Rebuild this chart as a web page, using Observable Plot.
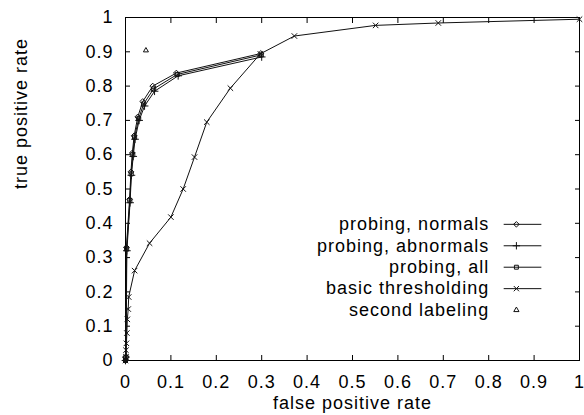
<!DOCTYPE html>
<html><head><meta charset="utf-8">
<script src="https://cdn.jsdelivr.net/npm/d3@7"></script>
<script src="https://cdn.jsdelivr.net/npm/@observablehq/plot@0.6"></script>
<style>body{margin:0;background:#fff} svg{overflow:visible}</style>
</head><body><div id="chart"></div>
<script>
const xTicks = [0,0.1,0.2,0.3,0.4,0.5,0.6,0.7,0.8,0.9,1];
const yTicks = [0,0.1,0.2,0.3,0.4,0.5,0.6,0.7,0.8,0.9,1];
const tickLabels = ["0","0.1","0.2","0.3","0.4","0.5","0.6","0.7","0.8","0.9","1"];

const normalsX = [0, 0.001, 0.002, 0.009, 0.012, 0.015, 0.019, 0.027, 0.038, 0.060, 0.112, 0.298];
const normalsY = [0, 0.010, 0.330, 0.470, 0.550, 0.605, 0.655, 0.710, 0.755, 0.800, 0.838, 0.895];
const abnormalsX = [0, 0.001, 0.003, 0.010, 0.013, 0.017, 0.021, 0.030, 0.042, 0.064, 0.116, 0.300];
const abnormalsY = [0, 0.010, 0.320, 0.460, 0.540, 0.595, 0.645, 0.700, 0.742, 0.785, 0.830, 0.885];
const allX = [0, 0.001, 0.0025, 0.0095, 0.0125, 0.016, 0.020, 0.029, 0.040, 0.062, 0.114, 0.299];
const allY = [0, 0.010, 0.325, 0.466, 0.544, 0.600, 0.651, 0.705, 0.748, 0.792, 0.834, 0.891];
const basicX = [0, 0.001, 0.001, 0.002, 0.003, 0.004, 0.006, 0.007, 0.020, 0.053, 0.100, 0.127, 0.152, 0.179, 0.231, 0.297, 0.372, 0.551, 0.689, 1.0];
const basicY = [0, 0.010, 0.030, 0.050, 0.080, 0.120, 0.150, 0.185, 0.262, 0.342, 0.418, 0.500, 0.593, 0.695, 0.794, 0.894, 0.946, 0.977, 0.984, 0.995];
const secondX = [0.045];
const secondY = [0.904];

const legendLabels = ["probing, normals", "probing, abnormals", "probing, all", "basic thresholding", "second labeling"];
const legendSymbols = ["diamond2", "plus", "square2", "times", "triangle2"];
const legendHasLine = [true, true, true, true, false];

const toRows = (xs, ys) => xs.map((x, i) => ({x, y: ys[i]}));
const series = [
  {rows: toRows(normalsX, normalsY), symbol: "diamond2"},
  {rows: toRows(abnormalsX, abnormalsY), symbol: "plus"},
  {rows: toRows(allX, allY), symbol: "square2"},
  {rows: toRows(basicX, basicY), symbol: "times"}
];

// legend layout (in data units of the frame)
const legRows = legendLabels.map((label, i) => ({
  label, symbol: legendSymbols[i], line: legendHasLine[i],
  y: 0.397 - 0.0625 * i, xt: 0.801, x1: 0.833, x2: 0.916, xm: 0.861
}));

const fontStyle = {fontFamily: "'Liberation Sans', Arial, sans-serif", fontSize: "18px", letterSpacing: "1px"};
const fmt = d => tickLabels[xTicks.findIndex(t => Math.abs(t - d) < 1e-9)];

const marks = [
  Plot.axisX({anchor: "bottom", ticks: xTicks, tickSize: -5, tickPadding: 20, tickFormat: fmt, label: null, fontSize: 18}),
  Plot.axisX({anchor: "top", ticks: xTicks, tickSize: -5, tickFormat: () => "", label: null}),
  Plot.axisY({anchor: "left", ticks: yTicks, tickSize: -5, tickPadding: 17, tickFormat: fmt, label: null, fontSize: 18}),
  Plot.axisY({anchor: "right", ticks: yTicks, tickSize: -5, tickFormat: () => "", label: null}),
  Plot.frame({stroke: "black", strokeWidth: 1}),
];
for (const s of series) {
  marks.push(Plot.line(s.rows, {x: "x", y: "y", stroke: "#111", strokeWidth: 1}));
  marks.push(Plot.dot(s.rows, {x: "x", y: "y", symbol: () => s.symbol, r: 2.6, stroke: "#111", strokeWidth: 1}));
}
marks.push(Plot.dot(toRows(secondX, secondY), {x: "x", y: "y", symbol: () => "triangle2", r: 2.4, stroke: "#111", strokeWidth: 1}));
// legend
marks.push(Plot.text(legRows, {x: "xt", y: "y", text: "label", textAnchor: "end", fontSize: 18, letterSpacing: "1.5px", fill: "black"}));
marks.push(Plot.link(legRows.filter(d => d.line), {x1: "x1", x2: "x2", y1: "y", y2: "y", stroke: "#111", strokeWidth: 1}));
marks.push(Plot.dot(legRows, {x: "xm", y: "y", symbol: "symbol", r: 2.5, stroke: "#111", strokeWidth: 1}));
// axis titles
marks.push(Plot.text(["true positive rate"], {frameAnchor: "left", dx: -104, rotate: -90, fontSize: 18, letterSpacing: "1.3px", fill: "black"}));
marks.push(Plot.text(["false positive rate"], {frameAnchor: "bottom", dy: 48, lineAnchor: "bottom", fontSize: 18, letterSpacing: "1.3px", fill: "black"}));

const chart = Plot.plot({
  width: 584, height: 415,
  marginLeft: 125, marginRight: 5, marginTop: 17, marginBottom: 55,
  x: {domain: [0, 1]},
  y: {domain: [0, 1]},
  symbol: {type: "identity"},
  style: fontStyle,
  marks
});
document.getElementById("chart").appendChild(chart);
</script>
</body></html>
